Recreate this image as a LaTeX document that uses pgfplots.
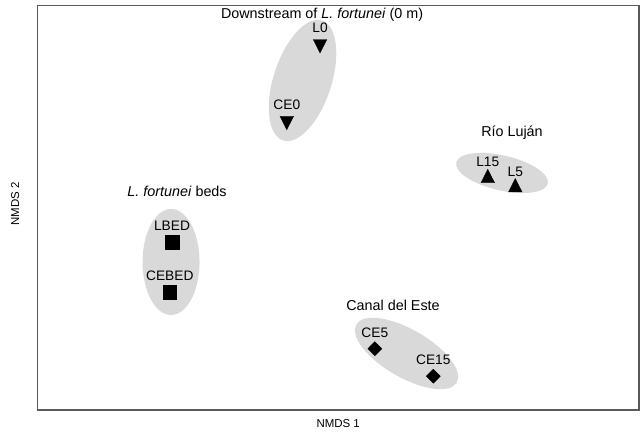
\documentclass[border=0pt]{standalone}
\usepackage{fontspec}
\setmainfont{Liberation Sans}
\usepackage{pgfplots}
\pgfplotsset{compat=1.18}
\usepackage{pgfplotstable}

\definecolor{groupfill}{RGB}{217,217,217}
\definecolor{frameline}{RGB}{90,90,90}

% NMDS scores of the sampling sites
\pgfplotstableread{
x      y      label
-0.068 0.656  L0
-0.201 0.349  CE0
}\downstream
\pgfplotstableread{
x      y      label
0.603  0.119  L15
0.713  0.082  L5
}\lujan
\pgfplotstableread{
x      y      label
-0.660 -0.136 LBED
-0.669 -0.337 CEBED
}\beds
\pgfplotstableread{
x      y      label
0.151  -0.563 CE5
0.385  -0.673 CE15
}\canal

\begin{document}
\fontsize{11.5}{13.5}\selectfont
\begin{tikzpicture}
\begin{axis}[
  scale only axis,
  width=601.7bp, height=404.3bp,
  xmin=-1.199, xmax=1.208,
  ymin=-0.808, ymax=0.8092,
  ticks=none,
  axis line style={draw=frameline, line width=1.1bp},
  xlabel={NMDS 1}, ylabel={NMDS 2},
  xlabel style={at={(axis description cs:0.5,-0.0334)}, anchor=center},
  ylabel style={at={(axis description cs:-0.0366,0.51)}, anchor=center},
  label style={font=\fontsize{11.5}{13.5}\selectfont},
  set layers,
  only marks,
  point meta=explicit symbolic,
  nodes near coords,
  nodes near coords align={anchor=base},
  every node near coord/.append style={yshift=11.3bp, inner sep=0pt,
    font=\fontsize{13.8}{16}\selectfont},
]
% group ellipses
\begin{pgfonlayer}{axis background}
\fill[groupfill, rotate around={72:(axis cs:-0.138,0.510)}]
  (axis cs:-0.138,0.510) ellipse [x radius=63bp, y radius=29bp];
\fill[groupfill, rotate around={-13:(axis cs:0.660,0.140)}]
  (axis cs:0.660,0.140) ellipse [x radius=47bp, y radius=17.5bp];
\fill[groupfill]
  (axis cs:-0.664,-0.216) ellipse [x radius=28.5bp, y radius=53bp];
\fill[groupfill, rotate around={-30:(axis cs:0.278,-0.582)}]
  (axis cs:0.278,-0.582) ellipse [x radius=58bp, y radius=24bp];
\end{pgfonlayer}

\addplot[mark=triangle*, mark size=7.8bp,
  mark options={draw=black, fill=black, rotate=180, yscale=1.15}]
  table[x=x, y=y, meta=label] {\downstream};
\addplot[mark=triangle*, mark size=7.8bp,
  mark options={draw=black, fill=black, yscale=1.15}]
  table[x=x, y=y, meta=label] {\lujan};
\addplot[mark=square*, mark size=6.8bp,
  mark options={draw=black, fill=black}]
  table[x=x, y=y, meta=label] {\beds};
\addplot[mark=diamond*, mark size=7bp,
  mark options={draw=black, fill=black, xscale=1.33}]
  table[x=x, y=y, meta=label] {\canal};

% group names
\begin{scope}[font=\fontsize{14.4}{17}\selectfont]
\node at (axis cs:-0.060,0.772) {Downstream of \textit{L. fortunei} (0 m)};
\node at (axis cs:0.700,0.300) {Río Luján};
\node at (axis cs:-0.640,0.068) {\textit{L. fortunei} beds};
\node at (axis cs:0.224,-0.388) {Canal del Este};
\end{scope}
\end{axis}
\path (current axis.south west) ++(-37.3bp,-26bp)
  rectangle ([shift={(2bp,5.7bp)}]current axis.north east);
\end{tikzpicture}
\end{document}
